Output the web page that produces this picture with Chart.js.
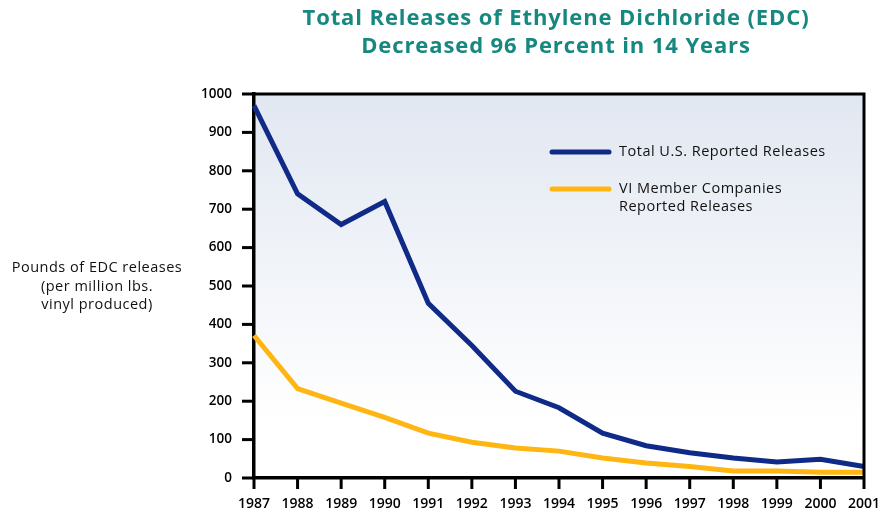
<!DOCTYPE html>
<html>
<head>
<meta charset="utf-8">
<script src="https://cdn.jsdelivr.net/npm/chart.js@4.4.1/dist/chart.umd.min.js"></script>
<style>
  html, body { margin: 0; padding: 0; background: #fff; }
  #wrap { width: 881px; height: 512px; position: relative; }
</style>
</head>
<body>
<div id="wrap"><canvas id="edcChart"></canvas></div>
<script>
const years = ['1987', '1988', '1989', '1990', '1991', '1992', '1993', '1994',
               '1995', '1996', '1997', '1998', '1999', '2000', '2001'];
const totalUS = [970, 740, 660, 720, 455, 345, 226, 183, 117, 84, 66, 52, 42, 49, 30];
const viMembers = [371, 233, 195, 158, 117, 93, 78, 70, 52, 39, 30, 18, 18, 15, 15];
const yTicks = [0, 100, 200, 300, 400, 500, 600, 700, 800, 900, 1000];

const titleLines = ['Total Releases of Ethylene Dichloride (EDC)', 'Decreased 96 Percent in 14 Years'];
const yTitleLines = ['Pounds of EDC releases', '(per million lbs.', 'vinyl produced)'];
const legendItems = [
    { lines: ['Total U.S. Reported Releases'], color: '#0f2a87' },
    { lines: ['VI Member Companies', 'Reported Releases'], color: '#ffb612' }
];

const FONT = '"Open Sans", sans-serif';

// background gradient, frame, tick marks, titles and legend
const decorations = {
    id: 'decorations',
    beforeDraw(chart) {
        const { ctx, chartArea: a } = chart;
        const g = ctx.createLinearGradient(0, a.top, 0, a.bottom);
        g.addColorStop(0, '#e1e7f1');
        g.addColorStop(0.85, '#ffffff');
        g.addColorStop(1, '#ffffff');
        ctx.save();
        ctx.fillStyle = g;
        ctx.fillRect(a.left, a.top, a.right - a.left, a.bottom - a.top);
        ctx.restore();
    },
    afterDraw(chart) {
        const { ctx, chartArea: a } = chart;
        const xs = chart.scales.x, ys = chart.scales.y;
        ctx.save();
        ctx.globalAlpha = 1;
        ctx.setLineDash([]);
        // top / right frame
        ctx.strokeStyle = '#000';
        ctx.lineWidth = 3;
        ctx.beginPath();
        ctx.moveTo(a.left, a.top);
        ctx.lineTo(a.right, a.top);
        ctx.lineTo(a.right, a.bottom);
        ctx.stroke();

        // outward tick marks
        ctx.fillStyle = '#000';
        for (const v of yTicks) {
            const py = ys.getPixelForValue(v);
            ctx.fillRect(a.left - 12, py - 1.5, 12, 3);
        }
        for (let i = 0; i < years.length; i++) {
            const px = xs.getPixelForValue(i);
            ctx.fillRect(px - 1.5, a.bottom, 3, 11);
        }

        // main title
        ctx.fillStyle = '#17887f';
        ctx.font = 'bold 22px ' + FONT;
        ctx.letterSpacing = '0.9px';
        ctx.textAlign = 'center';
        ctx.textBaseline = 'middle';
        titleLines.forEach((t, i) => ctx.fillText(t, 556, 19 + i * 28));

        // y axis title
        ctx.fillStyle = '#111';
        ctx.font = '14.5px ' + FONT;
        ctx.letterSpacing = '0.5px';
        yTitleLines.forEach((t, i) => ctx.fillText(t, 97, 268 + i * 18.5));

        // legend
        ctx.textAlign = 'left';
        let y = 152;
        legendItems.forEach(item => {
            ctx.strokeStyle = item.color;
            ctx.lineWidth = 5;
            ctx.lineCap = 'round';
            ctx.beginPath();
            ctx.moveTo(552, y);
            ctx.lineTo(609, y);
            ctx.stroke();
            item.lines.forEach((t, i) => ctx.fillText(t, 619, y + i * 18));
            y += 37;
        });
        ctx.restore();
    }
};

new Chart(document.getElementById('edcChart').getContext('2d'), {
    type: 'line',
    data: {
        labels: years,
        datasets: [
            { label: 'Total U.S. Reported Releases', data: totalUS, borderColor: legendItems[0].color,
              borderWidth: 5, pointRadius: 0, tension: 0, fill: false },
            { label: 'VI Member Companies Reported Releases', data: viMembers, borderColor: legendItems[1].color,
              borderWidth: 5, pointRadius: 0, tension: 0, fill: false }
        ]
    },
    options: {
        responsive: true,
        maintainAspectRatio: false,
        animation: false,
        layout: { padding: { top: 94, right: 17, left: 0, bottom: 0 } },
        plugins: { legend: { display: false }, tooltip: { enabled: false } },
        scales: {
            x: {
                offset: false,
                grid: { display: false },
                border: { display: true, color: '#000', width: 3.5 },
                ticks: { color: '#000', font: { family: FONT, size: 14, weight: '600' }, padding: 10, maxRotation: 0, autoSkip: false },
                afterFit(scale) { scale.height = 34; scale.paddingLeft = 0; scale.paddingRight = 0; }
            },
            y: {
                min: 0,
                max: 1000,
                afterBuildTicks(scale) { scale.ticks = yTicks.map(v => ({ value: v })); },
                grid: { display: false },
                border: { display: true, color: '#000', width: 3.5 },
                ticks: { color: '#000', font: { family: FONT, size: 13.5, weight: '600' }, padding: 14, callback: v => String(v) },
                afterFit(scale) { scale.width = 254; }
            }
        }
    },
    plugins: [decorations]
});
</script>
</body>
</html>
